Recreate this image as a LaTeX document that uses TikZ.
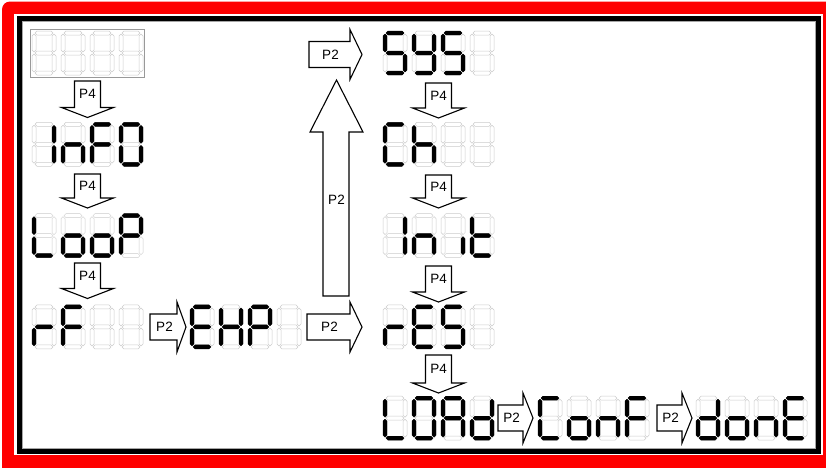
\documentclass[tikz,border=0pt]{standalone}
\usepackage{fontspec}
\setmainfont{Liberation Sans}
\tikzset{
  seg0/.style={draw=black!20, line width=0.5pt, line join=round},
  seg1/.style={fill=black, draw=black, line width=0.4pt, line join=round},
  blockarrow/.style={draw=black, fill=white, line width=1.1pt, line join=miter},
  lbl/.style={font=\fontsize{13.5}{14}\selectfont, inner sep=0pt},
  framegray/.style={draw=black!40, line width=0.6pt},
}
\newcommand\hsg[2]{%
  \path[seg#1] (3,#2) -- (5,#2-2) -- (19,#2-2) -- (21,#2) -- (19,#2+2) -- (5,#2+2) -- cycle;}
\newcommand\vsg[4]{%
  \path[seg#1] (#2,#3+1) -- (#2+2,#3+3) -- (#2+2,#4-3) -- (#2,#4-1) -- (#2-2,#4-3) -- (#2-2,#3+3) -- cycle;}
\def\sdparse#1#2#3#4#5#6#7\relax{%
  \hsg{#1}{2}%
  \vsg{#2}{22}{2}{22}%
  \vsg{#3}{22}{22}{42}%
  \hsg{#4}{42}%
  \vsg{#5}{2}{22}{42}%
  \vsg{#6}{2}{2}{22}%
  \hsg{#7}{22}%
}
\newcommand\sdigit[3]{\begin{scope}[shift={(#1,#2)}]\expandafter\sdparse#3\relax\end{scope}}
\newcommand\sdisp[6]{%
  \sdigit{#1}{#2}{#3}\sdigit{#1+29}{#2}{#4}\sdigit{#1+58}{#2}{#5}\sdigit{#1+87}{#2}{#6}}
% segment codes a b c d e f g
\def\qzb{0000000}
\def\qzI{0110000}
\def\qzn{0010101}
\def\qzF{1000111}
\def\qzO{1111110}
\def\qzL{0001110}
\def\qzo{0011101}
\def\qzP{1100111}
\def\qzr{0000101}
\def\qzE{1001111}
\def\qzH{0110111}
\def\qzS{1011011}
\def\qzy{0111011}
\def\qzC{1001110}
\def\qzh{0010111}
\def\qzi{0010000}
\def\qzt{0001111}
\def\qzA{1110111}
\def\qzd{0111101}
% down arrow: name, cx, ytop, ytip, label
\newcommand\downarr[5]{%
  \draw[blockarrow] (#2-13,#3) -- (#2+13,#3) -- (#2+13,#4-10) -- (#2+26,#4-10) -- (#2,#4)
     -- (#2-26,#4-10) -- (#2-13,#4-10) -- cycle;
  \node[lbl] (#1) at (#2,{(#3+#4-10)/2}) {#5};}
% right arrow: name, x0, xbase, xtip, cy, label
\newcommand\rightarr[6]{%
  \draw[blockarrow] (#2,#5-13) -- (#3,#5-13) -- (#3,#5-25) -- (#4,#5) -- (#3,#5+25)
     -- (#3,#5+13) -- (#2,#5+13) -- cycle;
  \node[lbl] (#1) at ({(#2+#3)/2+1},#5) {#6};}
\begin{document}
\begin{tikzpicture}[x=1pt,y=-1pt]
\useasboundingbox (0,0) rectangle (826,467);
% frame
\fill[red, rounded corners=8] (2,1.5) rectangle (836,478);
\fill[white] (14,14) rectangle (823,455);
\draw[line width=5pt] (19.5,18.5) rectangle (818.5,451);
\draw[black!35, line width=0.6pt] (22.5,21.5) rectangle (815.5,448.5);
% column A
\draw[framegray] (30.5,29) rectangle (144.5,77);
\sdisp{32}{31}{\qzb}{\qzb}{\qzb}{\qzb}
\sdisp{32}{122.3}{\qzI}{\qzn}{\qzF}{\qzO}
\sdisp{32}{213.6}{\qzL}{\qzo}{\qzo}{\qzP}
\sdisp{32}{304.9}{\qzr}{\qzF}{\qzb}{\qzb}
\sdisp{190}{304.9}{\qzE}{\qzH}{\qzP}{\qzb}
% column B
\sdisp{383}{31}{\qzS}{\qzy}{\qzS}{\qzb}
\sdisp{383}{122.3}{\qzC}{\qzh}{\qzb}{\qzb}
\sdisp{383}{213.6}{\qzI}{\qzn}{\qzi}{\qzt}
\sdisp{383}{304.9}{\qzr}{\qzE}{\qzS}{\qzb}
\sdisp{383}{396.2}{\qzL}{\qzO}{\qzA}{\qzd}
\sdisp{538}{396.2}{\qzC}{\qzo}{\qzn}{\qzF}
\sdisp{696}{396.2}{\qzd}{\qzo}{\qzn}{\qzE}
% down arrows
\downarr{pa1}{87.5}{81}{117.5}{P4}
\downarr{pa2}{87.5}{174}{208}{P4}
\downarr{pa3}{87.5}{263}{298.5}{P4}
\downarr{pb1}{438.5}{83}{118}{P4}
\downarr{pb2}{438.5}{175}{208}{P4}
\downarr{pb3}{438.5}{266}{302}{P4}
\downarr{pb4}{438.5}{355}{393}{P4}
% right arrows
\rightarr{ra1}{150}{177}{186}{327}{P2}
\rightarr{ra2}{307}{350}{362}{327}{P2}
\rightarr{ra3}{309}{350}{362}{54.5}{P2}
\rightarr{ra4}{498}{523}{533}{418}{P2}
\rightarr{ra5}{657}{682}{692}{418}{P2}
% up arrow
\draw[blockarrow] (323,296) -- (349,296) -- (349,132) -- (363,132) -- (336.5,80) -- (310,132)
   -- (323,132) -- cycle;
\node[lbl] (up) at (336.5,200) {P2};
\end{tikzpicture}
\end{document}
